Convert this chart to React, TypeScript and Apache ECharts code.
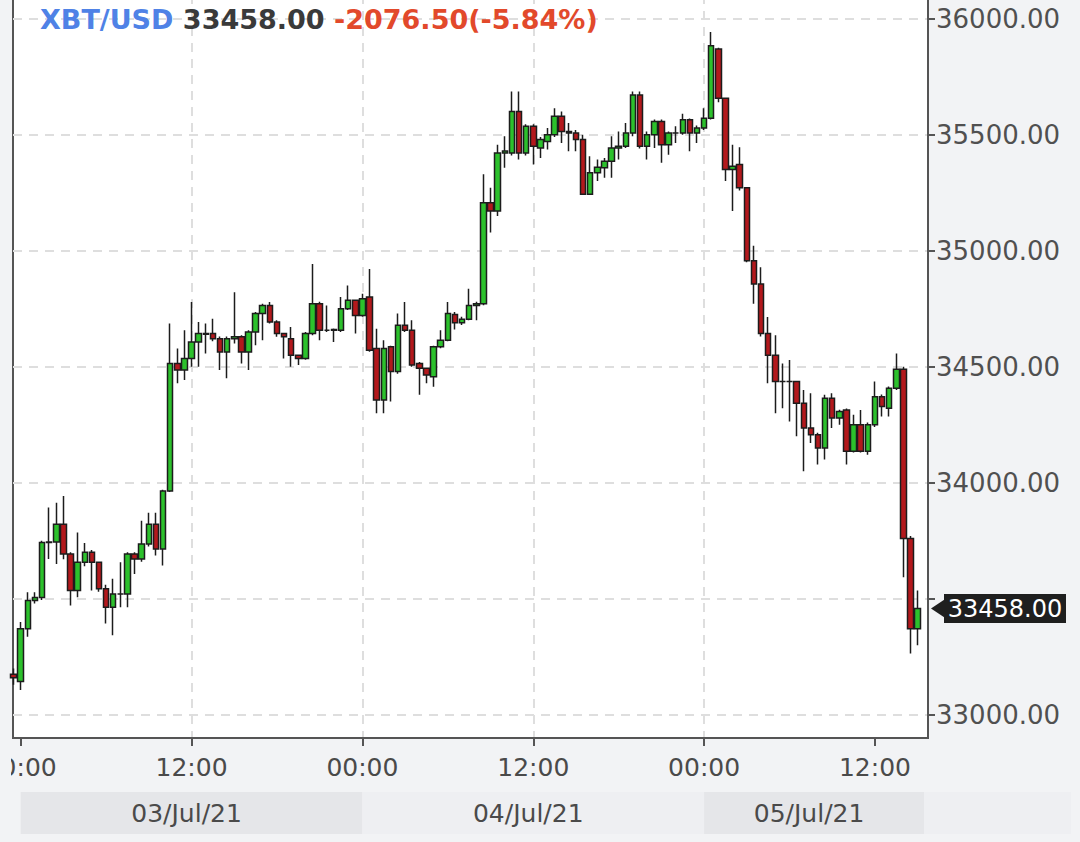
import React, { useEffect, useRef } from "react";
import * as echarts from "echarts";

// half-hour slot index, 0 = 03/Jul/21 00:00
const slots = [
  -1, 0, 1, 2, 3, 4, 5, 6, 7, 8, 9, 10, 11, 12, 13, 14, 15, 16, 17, 18, 19, 20,
  21, 22, 23, 24, 25, 26, 27, 28, 29, 30, 31, 32, 33, 34, 35, 36, 37, 38, 39, 40,
  41, 42, 43, 44, 45, 46, 47, 48, 49, 50, 51, 52, 53, 54, 55, 56, 57, 58, 59, 60,
  61, 62, 63, 64, 65, 66, 67, 68, 69, 70, 71, 72, 73, 74, 75, 76, 77, 78, 79, 80,
  81, 82, 83, 84, 85, 86, 87, 88, 89, 90, 91, 92, 93, 94, 95, 96, 97, 98, 99, 100,
  101, 102, 103, 104, 105, 106, 107, 108, 109, 110, 111, 112, 113, 114, 115, 116,
  117, 118, 119, 120, 121, 122, 123, 124, 125, 126,
];

const openP = [
  33175, 33143, 33371, 33493, 33505, 33743, 33745, 33821, 33693, 33536, 33657, 33700,
  33657, 33543, 33464, 33521, 33521, 33693, 33671, 33736, 33821, 33714, 33964, 34514,
  34486, 34536, 34607, 34643, 34643, 34621, 34564, 34621, 34629, 34564, 34650, 34729,
  34764, 34693, 34643, 34621, 34550, 34536, 34643, 34771, 34657, 34657, 34657, 34750,
  34786, 34721, 34800, 34579, 34357, 34586, 34479, 34679, 34657, 34514, 34493, 34457,
  34586, 34614, 34725, 34690, 34705, 34764, 34771, 35207, 35171, 35421, 35421, 35600,
  35421, 35536, 35443, 35471, 35500, 35579, 35514, 35507, 35479, 35243, 35336, 35357,
  35386, 35443, 35450, 35507, 35671, 35450, 35500, 35557, 35457, 35507, 35507, 35564,
  35507, 35529, 35571, 35869, 35657, 35350, 35371, 35271, 34957, 34857, 34643, 34550,
  34436, 34436, 34436, 34343, 34236, 34207, 34150, 34364, 34279, 34314, 34136, 34250,
  34136, 34250, 34371, 34321, 34407, 34489, 33760, 33371,
];

const highP = [
  33200, 33400, 33528, 33528, 33750, 33893, 33914, 33943, 33700, 33786, 33740, 33710,
  33660, 33560, 33586, 33657, 33700, 33700, 33836, 33871, 33871, 33970, 34686, 34579,
  34657, 34779, 34693, 34686, 34707, 34630, 34630, 34821, 34636, 34657, 34736, 34771,
  34779, 34700, 34643, 34671, 34550, 34650, 34943, 34780, 34764, 34665, 34800, 34850,
  34790, 34814, 34921, 34664, 34614, 34590, 34729, 34779, 34700, 34520, 34495, 34590,
  34657, 34779, 34736, 34715, 34836, 34780, 35329, 35271, 35457, 35493, 35686, 35686,
  35545, 35545, 35490, 35529, 35614, 35600, 35550, 35520, 35500, 35407, 35393, 35400,
  35493, 35514, 35550, 35686, 35686, 35514, 35565, 35565, 35514, 35536, 35590, 35570,
  35540, 35614, 35943, 35875, 35660, 35457, 35446, 35275, 35021, 34929, 34714, 34636,
  34514, 34529, 34440, 34400, 34386, 34215, 34379, 34386, 34315, 34320, 34293, 34314,
  34260, 34436, 34380, 34415, 34557, 34500, 33770, 33536,
];

const lowP = [
  33130, 33107, 33336, 33480, 33495, 33671, 33650, 33670, 33471, 33507, 33640, 33536,
  33530, 33393, 33343, 33464, 33464, 33607, 33660, 33725, 33686, 33643, 33960, 34429,
  34443, 34500, 34500, 34557, 34610, 34486, 34450, 34600, 34514, 34486, 34593, 34614,
  34686, 34629, 34536, 34500, 34507, 34530, 34636, 34614, 34650, 34607, 34650, 34745,
  34643, 34715, 34565, 34300, 34300, 34350, 34470, 34650, 34500, 34379, 34429, 34414,
  34580, 34610, 34660, 34680, 34700, 34700, 34765, 35079, 35150, 35357, 35410, 35393,
  35410, 35371, 35400, 35436, 35490, 35464, 35429, 35429, 35240, 35240, 35300, 35314,
  35314, 35393, 35443, 35493, 35440, 35393, 35443, 35379, 35414, 35464, 35500, 35429,
  35464, 35520, 35565, 35640, 35300, 35171, 35260, 34950, 34771, 34630, 34429, 34300,
  34321, 34264, 34200, 34050, 34171, 34079, 34100, 34236, 34250, 34079, 34130, 34130,
  34121, 34240, 34286, 34286, 34400, 33593, 33264, 33300,
];

const closeP = [
  33160, 33371, 33493, 33505, 33743, 33745, 33821, 33693, 33536, 33657, 33700, 33657,
  33543, 33464, 33521, 33521, 33693, 33671, 33736, 33821, 33714, 33964, 34514, 34486,
  34536, 34607, 34643, 34640, 34621, 34564, 34621, 34629, 34564, 34650, 34729, 34764,
  34693, 34643, 34629, 34550, 34536, 34643, 34771, 34657, 34657, 34660, 34750, 34786,
  34721, 34793, 34571, 34357, 34579, 34479, 34679, 34657, 34507, 34493, 34464, 34586,
  34614, 34729, 34690, 34705, 34764, 34771, 35207, 35171, 35421, 35430, 35600, 35421,
  35536, 35450, 35479, 35500, 35579, 35514, 35507, 35479, 35243, 35336, 35360, 35386,
  35443, 35450, 35507, 35671, 35450, 35500, 35557, 35457, 35507, 35507, 35564, 35507,
  35529, 35571, 35883, 35657, 35350, 35364, 35271, 34957, 34857, 34643, 34550, 34436,
  34436, 34436, 34343, 34236, 34207, 34150, 34364, 34279, 34307, 34136, 34250, 34136,
  34250, 34371, 34329, 34407, 34489, 33760, 33371, 33458,
];

const xTickSlots = [0, 24, 48, 72, 96, 120];
const xTickLabels = ["00:00", "12:00", "00:00", "12:00", "00:00", "12:00"];
const dayStartSlots = [0, 48, 96];
const dayLabels = ["03/Jul/21", "04/Jul/21", "05/Jul/21"];

const symbolName = "XBT/USD";
const lastPrice = 33458.0;
const changeText = "-2076.50(-5.84%)";

const X_MIN = -1.08;
const X_MAX = 127.45;
const Y_MIN = 32900;
const Y_MAX = 36102;

const GRID_L = 13;
const GRID_R = 928;

const BG = "#f2f3f5";
const AXIS = "#555555";
const FONT = "DejaVu Sans";

export default function App() {
  const ref = useRef<HTMLDivElement>(null);

  useEffect(() => {
    const el = ref.current;
    if (!el) return;
    const chart = echarts.init(el, null, { renderer: "svg" });

    const data = slots.map((s, k) => [s, openP[k], closeP[k], lowP[k], highP[k]]);

    chart.setOption({
      animation: false,
      backgroundColor: BG,
      grid: {
        left: GRID_L,
        right: 1080 - GRID_R,
        top: -5,
        bottom: 104,
        show: true,
        backgroundColor: "#ffffff",
        borderColor: AXIS,
        borderWidth: 2,
        containLabel: false,
        outerBoundsMode: "none",
      },
      xAxis: {
        type: "value",
        min: X_MIN,
        max: X_MAX,
        axisLine: { show: true, onZero: false, lineStyle: { color: AXIS, width: 2 } },
        axisTick: {
          show: true,
          customValues: xTickSlots,
          length: 8,
          lineStyle: { color: AXIS, width: 2 },
        },
        axisLabel: {
          customValues: xTickSlots,
          formatter: (v: number) => {
            const k = xTickSlots.indexOf(Math.round(v));
            return k >= 0 ? xTickLabels[k] : "";
          },
          color: "#4a4a4a",
          fontSize: 25,
          fontFamily: FONT,
          margin: 17,
        },
        splitLine: {
          show: true,
          showMinLine: false,
          showMaxLine: false,
          lineStyle: { color: "#dedede", width: 2, type: [9, 7] },
        },
      },
      yAxis: {
        type: "value",
        position: "right",
        min: Y_MIN,
        max: Y_MAX,
        splitNumber: 6,
        minInterval: 500,
        maxInterval: 500,
        scale: true,
        axisLine: { show: true, onZero: false, lineStyle: { color: AXIS, width: 2 } },
        axisTick: { show: true, length: 7, lineStyle: { color: AXIS, width: 2 } },
        axisLabel: {
          showMinLabel: false,
          showMaxLabel: false,
          formatter: (v: number) => (Math.abs(v - lastPrice) < 120 ? "" : v.toFixed(2)),
          color: "#505050",
          fontSize: 26,
          fontFamily: FONT,
          margin: 8,
        },
        splitLine: {
          show: true,
          showMinLine: false,
          showMaxLine: false,
          lineStyle: { color: "#dedede", width: 2, type: [9, 7] },
        },
      },
      series: [
        {
          type: "candlestick",
          data,
          encode: { x: 0, y: [1, 2, 3, 4] },
          barWidth: 6,
          clip: true,
          itemStyle: {
            color: "#2cc12c",
            color0: "#b3181c",
            borderColor: "#1c1c1c",
            borderColor0: "#1c1c1c",
            borderWidth: 1.5,
          },
        },
      ],
    });

    const xp = (v: number) => chart.convertToPixel({ xAxisIndex: 0 }, v) as number;
    const yp = (v: number) => chart.convertToPixel({ yAxisIndex: 0 }, v) as number;

    const dayEdges = dayStartSlots.map(xp);
    const plotRight = GRID_R - 4;
    const bandTop = 792;
    const bandH = 42;
    const bands: any[] = [];
    const bandColors = ["#e5e6e9", "#eeeff2", "#e5e6e9"];
    dayEdges.forEach((x0, k) => {
      const x1 = k + 1 < dayEdges.length ? dayEdges[k + 1] : plotRight;
      bands.push({
        type: "rect",
        shape: { x: x0, y: bandTop, width: x1 - x0, height: bandH },
        style: { fill: bandColors[k] },
        silent: true,
      });
      bands.push({
        type: "text",
        x: (x0 + x1) / 2 - 5,
        y: bandTop + bandH / 2,
        style: {
          text: dayLabels[k],
          fill: "#4a4a4a",
          fontSize: 25,
          fontFamily: FONT,
          align: "center",
          verticalAlign: "middle",
        },
        silent: true,
      });
    });
    bands.push({
      type: "rect",
      shape: { x: plotRight, y: bandTop, width: 1071 - plotRight, height: bandH },
      style: { fill: "#eeeff2" },
      silent: true,
    });

    const py = yp(lastPrice);
    const badge = [
      {
        type: "polygon",
        z: 100,
        shape: { points: [[931, py], [946, py - 10], [946, py + 10]] },
        style: { fill: "#1f1f1f" },
        silent: true,
      },
      {
        type: "rect",
        z: 100,
        shape: { x: 944, y: py - 14.5, width: 122, height: 29 },
        style: { fill: "#1f1f1f" },
        silent: true,
      },
      {
        type: "text",
        z: 101,
        x: 1005,
        y: py,
        style: {
          text: lastPrice.toFixed(2),
          fill: "#ffffff",
          fontSize: 24,
          fontFamily: FONT,
          align: "center",
          verticalAlign: "middle",
        },
        silent: true,
      },
    ];

    const header = {
      type: "text",
      z: 100,
      x: 40,
      y: 19,
      style: {
        text: `{a|${symbolName}} {b|${lastPrice.toFixed(2)}} {c|${changeText}}`,
        verticalAlign: "middle",
        fontSize: 27,
        fontWeight: "bold",
        fontFamily: FONT,
        rich: {
          a: { fill: "#4f82e6", fontSize: 27, fontWeight: "bold", fontFamily: FONT },
          b: { fill: "#3a3a3a", fontSize: 27, fontWeight: "bold", fontFamily: FONT },
          c: { fill: "#e2492b", fontSize: 27, fontWeight: "bold", fontFamily: FONT },
        },
      },
      silent: true,
    };

    const cover = {
      type: "rect",
      z: 100,
      shape: { x: 0, y: 742, width: 11, height: 46 },
      style: { fill: BG },
      silent: true,
    };

    chart.setOption({ graphic: [...bands, ...badge, header, cover] });

    return () => {
      chart.dispose();
    };
  }, []);

  return (
    <div
      ref={ref}
      style={{ position: "fixed", left: 0, top: 0, width: 1080, height: 842, background: BG }}
    />
  );
}
